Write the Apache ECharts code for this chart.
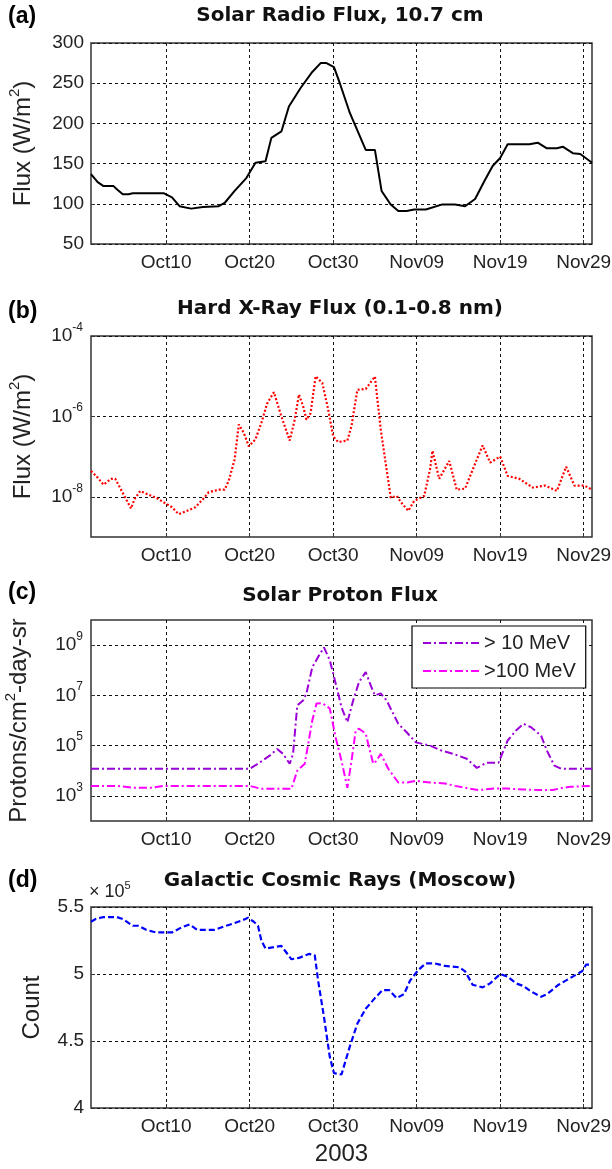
<!DOCTYPE html>
<html><head><meta charset="utf-8">
<script src="https://cdn.jsdelivr.net/npm/echarts@6/dist/echarts.min.js"></script>
<style>html,body{margin:0;padding:0;background:#fff}#c{width:612px;height:1169px}</style>
</head><body><div id="c"></div>
<script>
// x values are days since 2003-10-01 00:00
const xTickDays = [9, 19, 29, 39, 49, 59];
const xTickLabels = ['Oct10', 'Oct20', 'Oct30', 'Nov09', 'Nov19', 'Nov29'];

const radioDay = [0,0.8,1.5,2.7,3.1,3.8,4.5,5.0,8.75,9.7,10.6,12.0,13.4,15.3,16.0,17.2,18.6,19.7,20.9,21.6,22.8,23.7,25.1,26.5,27.5,28.2,29.1,29.8,31.0,32.9,34.0,34.8,35.9,36.8,37.8,38.7,40.1,42.0,43.6,44.8,46.0,47.1,48.1,49.0,49.9,52.5,53.5,54.6,55.8,56.5,57.7,58.6,60.0];
const radioFlux = [137,127,122,122,118,112,112,113,113,108,97,94,96,97,101,116,132,151,153,182,190,221,244,264,275,275,270,250,213,167,167,116,99,91,91,93,93,99,99,97,106,128,147,157,174,174,176,169,169,171,163,162,151];

const xrayDay = [0,0.8,1.5,2.4,2.9,3.6,4.8,5.2,5.9,6.6,7.8,8.75,9.7,10.5,11.3,12.5,13.4,14.1,15.3,16.0,16.5,17.2,17.7,18.3,18.9,19.7,20.4,21.1,21.9,22.8,23.8,24.4,24.9,25.4,25.8,26.3,26.9,27.7,28.4,29.0,29.6,30.7,31.2,31.9,32.9,34.0,34.7,35.4,35.9,36.6,37.3,38.0,38.7,39.9,40.6,40.9,41.7,42.9,43.8,44.8,45.9,46.9,47.8,49.0,49.9,51.3,52.9,54.4,55.8,56.9,57.9,59.1,60];
const xrayFlux = [4.4e-8,3.0e-8,2.0e-8,2.8e-8,2.8e-8,1.5e-8,5.1e-9,8.7e-9,1.4e-8,1.2e-8,9.5e-9,7.2e-9,5.5e-9,3.7e-9,4.3e-9,5.5e-9,8.7e-9,1.3e-8,1.5e-8,1.5e-8,2.5e-8,8.5e-8,6.3e-7,3.9e-7,1.8e-7,2.7e-7,6.9e-7,2.1e-6,4.0e-6,1.0e-6,2.5e-7,8.3e-7,3.5e-6,1.8e-6,8.3e-7,1.2e-6,1.0e-5,6.8e-6,1.5e-6,3.2e-7,2.3e-7,2.5e-7,5.8e-7,4.6e-6,4.8e-6,9.8e-6,4.7e-7,4.8e-8,9.5e-9,1.05e-8,6.6e-9,4.5e-9,7.9e-9,1.05e-8,4.8e-8,1.4e-7,2.8e-8,7.8e-8,1.5e-8,1.6e-8,5.9e-8,1.9e-7,7.1e-8,1.0e-7,3.3e-8,2.8e-8,1.7e-8,1.9e-8,1.4e-8,5.6e-8,1.9e-8,1.9e-8,1.5e-8];

const p10Day = [0,19.0,20.0,21.4,22.3,23.0,23.8,24.2,24.7,25.4,25.8,26.5,27.2,27.9,28.6,29.3,30.0,30.7,31.4,32.1,32.9,33.5,34.0,34.7,35.4,36.8,37.8,38.9,40.6,42.0,43.4,45.0,46.2,47.4,48.8,49.9,50.9,51.8,52.7,53.9,54.6,55.5,56.3,60];
const p10Flux = [1.2e4,1.2e4,1.9e4,4.0e4,7.4e4,4.7e4,1.9e4,4.7e4,4.0e6,6.3e6,1.2e7,1.3e8,3.4e8,8.1e8,2.5e8,3.0e7,3.4e6,8.5e5,6.3e6,3.4e7,8.5e7,2.5e7,1.0e7,1.2e7,6.3e6,7.4e5,3.4e5,1.35e5,1.0e5,6.3e4,4.7e4,3.0e4,1.3e4,2.1e4,2.1e4,1.6e5,4.0e5,7.4e5,5.4e5,2.5e5,6.3e4,1.6e4,1.2e4,1.2e4];

const p100Day = [0,3.1,5.0,7.3,8.75,19.0,20.4,24.0,24.7,25.6,26.5,27.0,27.7,28.6,29.3,30.0,30.7,31.2,31.7,32.1,32.9,33.3,33.8,34.2,34.7,35.6,36.8,37.8,38.9,40.6,42.4,43.6,44.8,46.4,48.3,49.9,51.8,53.7,55.3,56.5,57.4,60];
const p100Flux = [2.5e3,2.5e3,2.1e3,2.1e3,2.5e3,2.5e3,1.9e3,1.9e3,1.0e4,1.9e4,1.0e6,4.7e6,4.9e6,3.0e6,2.1e5,2.5e4,2.1e3,2.5e4,4.0e5,4.7e5,3.0e5,8.5e4,1.9e4,2.5e4,4.7e4,1.2e4,3.4e3,3.4e3,4.0e3,3.4e3,3.1e3,2.5e3,2.1e3,1.7e3,1.95e3,1.95e3,1.8e3,1.7e3,1.7e3,2.1e3,2.3e3,2.5e3];

const gcrDay = [0,0.56,1.5,3.1,3.8,5.0,5.7,6.6,7.8,9.7,10.9,11.8,12.7,14.8,16.2,17.2,18.1,18.8,19.5,20.0,20.4,20.9,21.9,22.8,24.0,24.9,26.1,26.8,27.2,27.9,28.6,29.1,30.0,31.0,31.9,32.9,34.0,34.9,35.7,36.6,37.5,38.2,39.2,40.1,41.1,42.4,44.1,44.8,45.7,46.9,47.8,49.0,49.9,50.9,51.8,52.7,53.9,54.6,56.0,57.4,58.8,59.3,60];
const gcrCount = [539000,541000,542500,542500,541000,536000,536000,533000,531000,531000,535000,537000,533000,533000,536000,538000,540000,542000,539000,536000,525000,519000,520000,521000,511000,512000,515000,514000,495000,468000,438000,426000,425000,446000,463000,474000,482000,488000,488000,482000,485000,495000,503000,508000,508000,506000,505000,502000,492000,490000,493000,500000,498000,493000,491000,487000,483000,485000,492000,497000,502000,507000,507000];

const xrayTicks = [1e-8, 1e-6, 1e-4];
const protonTicks = [1e3, 1e5, 1e7, 1e9];

const FONT = 'Liberation Sans, Arial, Helvetica, sans-serif';
const TFONT = 'DejaVu Sans, Verdana, sans-serif';
const TXT = '#222';
const pair = (xs, ys) => xs.map((x, i) => [x, ys[i]]);
const supFmt = v => '10{sup|' + Math.round(Math.log10(v)) + '}';
const supRich = { sup: { fontSize: 12, fontFamily: FONT, color: TXT, verticalAlign: 'top', padding: [0, 0, 17, 0] } };
const nameRich = { sup: { fontSize: 15, fontFamily: FONT, color: TXT, verticalAlign: 'top', padding: [0, 0, 18, 0] } };

const tops = [43, 336, 620, 907];
const grid = tops.map(t => ({ left: 91, right: 20, top: t, height: 201, show: true, borderColor: '#333', borderWidth: 1.5,
  backgroundColor: '#fff', containLabel: false, outerBoundsMode: 'none' }));

const splitLine = { show: true, lineStyle: { color: '#111', type: [3, 3], width: 1 } };

const xAxis = tops.map((t, i) => ({
  type: 'value', gridIndex: i, min: 0, max: 60,
  axisLine: { show: false },
  axisTick: { show: true, inside: true, length: 4, customValues: xTickDays, lineStyle: { color: '#333' } },
  axisLabel: { customValues: xTickDays, formatter: v => xTickLabels[xTickDays.indexOf(v)] || '', fontSize: 19, color: TXT, fontFamily: FONT, margin: 9 },
  splitLine: splitLine,
  name: i === 3 ? '2003' : '', nameLocation: 'middle', nameGap: 34,
  nameTextStyle: { fontSize: 24, color: TXT, fontFamily: FONT }
}));

const yCommon = (i, name, gap, ticks) => ({
  gridIndex: i,
  axisLine: { show: false },
  axisTick: ticks ? { show: true, inside: true, length: 4, customValues: ticks, lineStyle: { color: '#333' } }
                  : { show: true, inside: true, length: 4, lineStyle: { color: '#333' } },
  splitLine: splitLine,
  name: name, nameLocation: 'middle', nameRotate: 90, nameGap: gap,
  nameTextStyle: { fontSize: 24, color: TXT, fontFamily: FONT, rich: nameRich }
});

const yAxis = [
  Object.assign(yCommon(0, 'Flux (W/m{sup|2})', 51), { type: 'value', min: 50, max: 300, interval: 50,
    axisLabel: { fontSize: 19, color: TXT, fontFamily: FONT, margin: 7 } }),
  Object.assign(yCommon(1, 'Flux (W/m{sup|2})', 51, xrayTicks), { type: 'log', logBase: 10, min: 1e-9, max: 1e-4,
    axisLabel: { customValues: xrayTicks, formatter: supFmt, fontSize: 19, color: TXT, fontFamily: FONT, margin: 8, rich: supRich } }),
  Object.assign(yCommon(2, 'Protons/cm{sup|2}-day-sr', 55, protonTicks), { type: 'log', logBase: 10, min: 1e2, max: 1e10,
    axisLabel: { customValues: protonTicks, formatter: supFmt, fontSize: 19, color: TXT, fontFamily: FONT, margin: 8, rich: supRich } }),
  Object.assign(yCommon(3, 'Count', 47), { type: 'value', min: 400000, max: 550000, interval: 50000,
    axisLabel: { formatter: v => String(v / 1e5), fontSize: 19, color: TXT, fontFamily: FONT, margin: 7 } })
];

const titleStyle = { fontSize: 20, fontWeight: 'bold', color: '#111', fontFamily: TFONT };
const labStyle = { fontSize: 23, fontWeight: 'bold', color: '#000', fontFamily: FONT };
const title = [
  { text: 'Solar Radio Flux, 10.7 cm', left: 340, top: 6, textAlign: 'center', textStyle: titleStyle, padding: 0 },
  { text: 'Hard X-Ray Flux (0.1-0.8 nm)', left: 340, top: 299, textAlign: 'center', textStyle: titleStyle, padding: 0 },
  { text: 'Solar Proton Flux', left: 340, top: 586, textAlign: 'center', textStyle: titleStyle, padding: 0 },
  { text: 'Galactic Cosmic Rays (Moscow)', left: 340, top: 871, textAlign: 'center', textStyle: titleStyle, padding: 0 },
  { text: '(a)', left: 8, top: 5, textStyle: labStyle, padding: 0 },
  { text: '(b)', left: 8, top: 300, textStyle: labStyle, padding: 0 },
  { text: '(c)', left: 8, top: 581, textStyle: labStyle, padding: 0 },
  { text: '(d)', left: 8, top: 869, textStyle: labStyle, padding: 0 },
  { text: '× 10{sup|5}', left: 89, top: 880, padding: 0,
    textStyle: { fontSize: 18, fontWeight: 'normal', color: TXT, fontFamily: FONT,
      rich: { sup: { fontSize: 11, fontWeight: 'normal', color: TXT, fontFamily: FONT, verticalAlign: 'top', padding: [0, 0, 14, 0] } } } }
];

const series = [
  { type: 'line', xAxisIndex: 0, yAxisIndex: 0, symbol: 'none', data: pair(radioDay, radioFlux),
    lineStyle: { color: '#000', width: 2 } },
  { type: 'line', xAxisIndex: 1, yAxisIndex: 1, symbol: 'none', data: pair(xrayDay, xrayFlux),
    lineStyle: { color: '#ff0000', width: 2.2, type: [2, 2] } },
  { type: 'line', name: '> 10 MeV', xAxisIndex: 2, yAxisIndex: 2, symbol: 'none', data: pair(p10Day, p10Flux),
    itemStyle: { color: '#9b00d9' }, lineStyle: { color: '#9b00d9', width: 2, type: [8, 3, 2, 3] } },
  { type: 'line', name: '>100 MeV', xAxisIndex: 2, yAxisIndex: 2, symbol: 'none', data: pair(p100Day, p100Flux),
    itemStyle: { color: '#ff00ff' }, lineStyle: { color: '#ff00ff', width: 2, type: [8, 3, 2, 3] } },
  { type: 'line', xAxisIndex: 3, yAxisIndex: 3, symbol: 'none', data: pair(gcrDay, gcrCount),
    lineStyle: { color: '#0000ff', width: 2.2, type: [6, 3] } }
];

const legend = {
  data: ['> 10 MeV', '>100 MeV'], orient: 'vertical', left: 412, top: 626,
  itemWidth: 56, itemHeight: 14, itemGap: 8, padding: [7, 10, 7, 10],
  borderColor: '#000', borderWidth: 1.2, backgroundColor: '#fff', borderRadius: 0,
  itemStyle: { opacity: 0 },
  textStyle: { fontSize: 20, color: TXT, fontFamily: FONT },
  selectedMode: false
};

const chart = echarts.init(document.getElementById('c'), null, { renderer: 'canvas' });
chart.setOption({ animation: false, backgroundColor: '#fff', title, grid, xAxis, yAxis, series, legend });
</script></body></html>
